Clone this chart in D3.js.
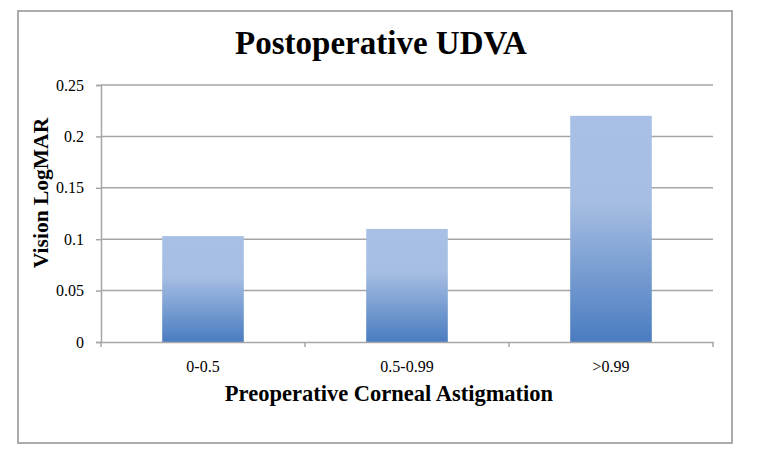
<!DOCTYPE html>
<html><head><meta charset="utf-8">
<script src="https://cdn.jsdelivr.net/npm/d3@7"></script>
<style>body{margin:0;background:#fff}svg{display:block}</style>
</head><body>
<script>
const categories = ["0-0.5", "0.5-0.99", ">0.99"];
const values = [0.103, 0.110, 0.220];
const yTicks = [0, 0.05, 0.1, 0.15, 0.2, 0.25];
const yTickLabels = ["0", "0.05", "0.1", "0.15", "0.2", "0.25"];
const title = "Postoperative UDVA";
const xTitle = "Preoperative Corneal Astigmation";
const yTitle = "Vision LogMAR";

const W = 766, H = 464;
const svg = d3.select("body").append("svg").attr("width", W).attr("height", H);
const font = "Liberation Serif, Times New Roman, serif";

svg.append("rect").attr("x", 18).attr("y", 11).attr("width", 714).attr("height", 432)
  .attr("fill", "#fff").attr("stroke", "#ababab").attr("stroke-width", 2);

const m = {l: 101, r: 713, t: 85, b: 342};
const x = d3.scaleBand().domain(categories).range([m.l, m.r]).paddingInner(0.6).paddingOuter(0.3);
const y = d3.scaleLinear().domain([0, 0.25]).range([m.b, m.t]);

const defs = svg.append("defs");
const g = defs.append("linearGradient").attr("id", "bg").attr("x1", 0).attr("y1", 0).attr("x2", 0).attr("y2", 1);
g.append("stop").attr("offset", "0%").attr("stop-color", "#a8c0e5");
g.append("stop").attr("offset", "38%").attr("stop-color", "#a6bee3");
g.append("stop").attr("offset", "100%").attr("stop-color", "#4a7cc0");

// gridlines
svg.append("g").selectAll("line").data(yTicks.slice(1)).join("line")
  .attr("x1", m.l).attr("x2", m.r).attr("y1", d => y(d)).attr("y2", d => y(d))
  .attr("stroke", "#a6a6a6").attr("stroke-width", 1.5);

// y axis
const ya = svg.append("g").attr("transform", `translate(${m.l},0)`)
  .call(d3.axisLeft(y).tickValues(yTicks).tickFormat((d, i) => yTickLabels[i]).tickSize(5).tickPadding(12))
  .attr("font-family", font).attr("font-size", 16);
ya.select(".domain").attr("stroke", "#a6a6a6").attr("stroke-width", 1.5);
ya.selectAll(".tick line").attr("stroke", "#a6a6a6").attr("stroke-width", 1.5);
ya.selectAll("text").style("font-family", font).style("font-size", "16px").attr("fill", "#000");

// bars
svg.append("g").selectAll("rect").data(values).join("rect")
  .attr("x", (d, i) => x(categories[i])).attr("width", x.bandwidth())
  .attr("y", d => y(d)).attr("height", d => y(0) - y(d))
  .attr("fill", "url(#bg)");

// x axis
const xa = svg.append("g").attr("transform", `translate(0,${m.b})`)
  .call(d3.axisBottom(x).tickSize(0).tickPadding(19))
  .attr("font-family", font).attr("font-size", 16);
xa.select(".domain").attr("stroke", "#a6a6a6").attr("stroke-width", 1.5);
xa.selectAll("text").style("font-family", font).style("font-size", "16px").attr("fill", "#000");
// boundary ticks
const bounds = d3.range(categories.length + 1).map(i => m.l + (m.r - m.l) * i / categories.length);
svg.append("g").selectAll("line").data(bounds).join("line")
  .attr("x1", d => d).attr("x2", d => d).attr("y1", m.b).attr("y2", m.b + 5)
  .attr("stroke", "#a6a6a6").attr("stroke-width", 1.5);

svg.append("text").attr("x", 381).attr("y", 54).attr("text-anchor", "middle")
  .style("font-family", font).attr("font-weight", "bold").attr("font-size", 33).text(title);
svg.append("text").attr("x", 389).attr("y", 401).attr("text-anchor", "middle")
  .style("font-family", font).attr("font-weight", "bold").attr("font-size", 22.5).text(xTitle);
svg.append("text").attr("transform", "translate(48,193) rotate(-90)").attr("text-anchor", "middle")
  .style("font-family", font).attr("font-weight", "bold").attr("font-size", 21.5).text(yTitle);
</script>
</body></html>
